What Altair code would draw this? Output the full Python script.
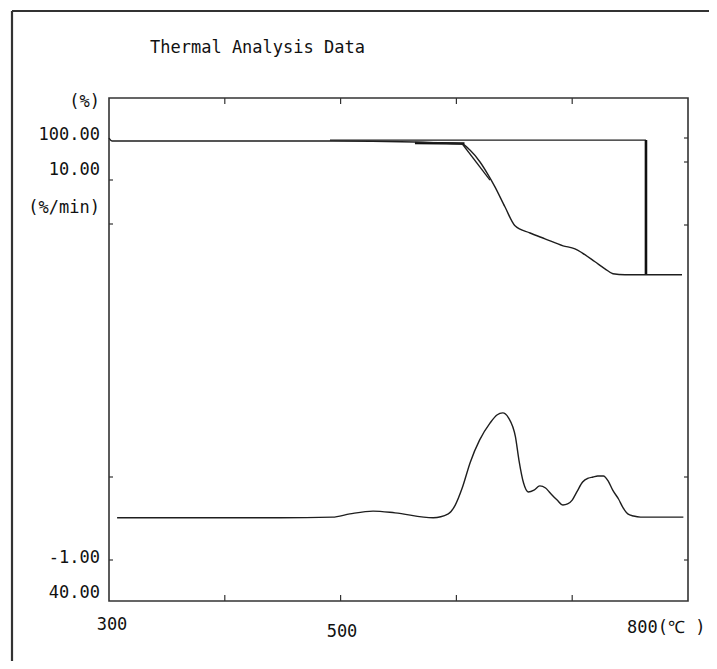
import altair as alt
import pandas as pd

# ---- data ----
tg_temp = [300, 302.6, 378.6, 490.8, 564.2, 585.8, 604.8, 611.7, 620.4, 626.4, 633.3, 641.9,
           650.6, 663.6, 676.5, 692.1, 702.4, 708.5, 719.7, 728.3, 735.2, 745.6, 762.9, 794.8]
tg_pct = [100.26, 99.88, 99.88, 99.88, 99.75, 99.62, 99.49, 98.70, 97.14, 95.73, 93.91, 91.31,
          88.84, 87.90, 87.14, 86.23, 85.84, 85.32, 84.15, 83.24, 82.60, 82.47, 82.47, 82.47]

dtg_temp = [307, 379, 448, 493, 508, 528, 547, 580, 593, 599, 605, 612, 620, 629, 635, 640, 645,
            651, 654, 658, 662, 667, 672, 677, 681, 687, 692, 696, 700, 704, 709, 714, 718, 722,
            727, 731, 735, 740, 744, 748, 753, 759, 776, 796]
dtg_val = [0.19, 0.19, 0.19, 0.21, 0.30, 0.38, 0.33, 0.19, 0.30, 0.55, 1.03, 1.76, 2.38, 2.86,
           3.09, 3.15, 3.01, 2.47, 1.82, 1.17, 0.92, 0.97, 1.09, 1.03, 0.89, 0.69, 0.55, 0.58,
           0.69, 0.92, 1.20, 1.31, 1.34, 1.37, 1.37, 1.23, 0.97, 0.72, 0.47, 0.30, 0.24, 0.21,
           0.21, 0.21]

onset_temp = [490.8, 763.7]
onset_pct = [100.0, 100.0]
step_temp = [763.7]
step_top = [100.0]
step_bottom = [82.47]
base_temp = [564.2, 607.0]
base_pct = [99.62, 99.55]
tangent_temp = [604.8, 629.0]
tangent_pct = [99.55, 94.79]

frame_ticks = [400, 500, 600, 700]

title_text = "Thermal Analysis Data"
y_label_texts = ["(%)", "100.00", "10.00", "(%/min)", "-1.00", "40.00"]
x_label_texts = ["300", "500", "800(℃ )"]

# ---- layout ----
W, H = 579, 503
FONT = "DejaVu Sans Mono"
INK = "#1e1e1e"

x_scale = alt.Scale(domain=[300, 800], nice=False, zero=False)
tg_scale = alt.Scale(domain=[40, 105.47], nice=False, zero=False)
dtg_scale = alt.Scale(domain=[-2.156, 12.03], nice=False, zero=False)

X = alt.X("T:Q", scale=x_scale, axis=None)

tg_df = pd.DataFrame({"T": tg_temp, "TG": tg_pct})
dtg_df = pd.DataFrame({"T": dtg_temp, "DTG": dtg_val})
onset_df = pd.DataFrame({"T": onset_temp, "TG": onset_pct})
step_df = pd.DataFrame({"T": step_temp, "TG": step_top, "TG2": step_bottom})
base_df = pd.DataFrame({"T": base_temp, "TG": base_pct})
tan_df = pd.DataFrame({"T": tangent_temp, "TG": tangent_pct})
ticks_df = pd.DataFrame({"T": frame_ticks})
one = pd.DataFrame({"a": [0]})

tg_line = alt.Chart(tg_df).mark_line(color=INK, strokeWidth=1.4, interpolate="monotone").encode(
    x=X, y=alt.Y("TG:Q", scale=tg_scale, axis=None))

dtg_line = alt.Chart(dtg_df).mark_line(color=INK, strokeWidth=1.4, interpolate="monotone").encode(
    x=X, y=alt.Y("DTG:Q", scale=dtg_scale, axis=None))

onset_line = alt.Chart(onset_df).mark_line(color=INK, strokeWidth=1.3).encode(
    x=X, y=alt.Y("TG:Q", scale=tg_scale, axis=None))

step_rule = alt.Chart(step_df).mark_rule(color="#111", strokeWidth=2.6).encode(
    x=X, y=alt.Y("TG:Q", scale=tg_scale, axis=None), y2="TG2:Q")

base_line = alt.Chart(base_df).mark_line(color="#111", strokeWidth=2.4).encode(
    x=X, y=alt.Y("TG:Q", scale=tg_scale, axis=None))

tan_line = alt.Chart(tan_df).mark_line(color=INK, strokeWidth=1.3).encode(
    x=X, y=alt.Y("TG:Q", scale=tg_scale, axis=None))

top_ticks = alt.Chart(ticks_df).mark_rule(color="#333", strokeWidth=1.2).encode(
    x=X, y=alt.value(0), y2=alt.value(6))
bottom_ticks = alt.Chart(ticks_df).mark_rule(color="#333", strokeWidth=1.2).encode(
    x=X, y=alt.value(H - 6), y2=alt.value(H))

side_ticks = []
for yv in [82, 126, 379, 462]:
    side_ticks.append(alt.Chart(one).mark_rule(color="#333", strokeWidth=1.2).encode(
        x=alt.value(0), x2=alt.value(4), y=alt.value(yv)))
for yv in [40, 64, 127, 379, 462]:
    side_ticks.append(alt.Chart(one).mark_rule(color="#333", strokeWidth=1.2).encode(
        x=alt.value(W - 4), x2=alt.value(W), y=alt.value(yv)))

# outer page frame
outer_left = alt.Chart(one).mark_rule(color="#333", strokeWidth=2.2).encode(
    x=alt.value(-97), y=alt.value(-87), y2=alt.value(640))
outer_top = alt.Chart(one).mark_rule(color="#333", strokeWidth=2.2).encode(
    x=alt.value(-97), x2=alt.value(720), y=alt.value(-87))


def label(text, x, y, align):
    return alt.Chart(one).mark_text(
        font=FONT, fontSize=17, color="#111", align=align, baseline="middle"
    ).encode(x=alt.value(x), y=alt.value(y), text=alt.value(text))


title = label(title_text, 41, -50, "left")
y_pos = [4, 37, 72, 110, 460, 495]
y_labels = [label(t, -9, yy, "right") for t, yy in zip(y_label_texts, y_pos)]
x_labels = [
    label(x_label_texts[0], 3, 527, "center"),
    label(x_label_texts[1], 233, 534, "center"),
    label(x_label_texts[2], 518, 530, "left"),
]

chart = alt.layer(
    outer_left, outer_top,
    top_ticks, bottom_ticks, *side_ticks,
    onset_line, step_rule, base_line, tan_line, tg_line, dtg_line,
    title, *y_labels, *x_labels,
).resolve_scale(y="independent").properties(
    width=W, height=H,
    padding={"left": 101, "top": 90, "right": 21, "bottom": 60},
    autosize=alt.AutoSizeParams(type="none"),
    background="white",
).configure_view(stroke="#333", strokeWidth=1.6)

chart.save("out.html", embed_options={"renderer": "svg", "actions": False})
